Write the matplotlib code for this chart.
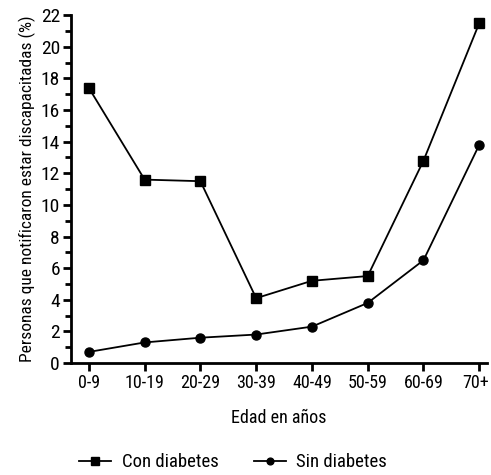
import numpy as np
import matplotlib
matplotlib.use("Agg")
import matplotlib.pyplot as plt
from matplotlib.ticker import MultipleLocator
from matplotlib.transforms import ScaledTranslation

plt.rcParams['font.family'] = ['Roboto Condensed', 'Liberation Sans Narrow', 'Open Sans Condensed',
                               'Liberation Sans', 'DejaVu Sans']

# datos
grupos = ['0-9', '10-19', '20-29', '30-39', '40-49', '50-59', '60-69', '70+']
con_diabetes = [17.4, 11.6, 11.5, 4.1, 5.2, 5.5, 12.8, 21.5]
sin_diabetes = [0.7, 1.3, 1.6, 1.8, 2.3, 3.8, 6.5, 13.8]

fig = plt.figure(figsize=(4.91, 4.75), dpi=100)
ax = fig.add_axes([0.1446, 0.2358, 0.8474, 0.7322])

x = np.arange(len(grupos))
ax.plot(x, con_diabetes, color='black', lw=1.3, marker='s', ms=7, label='Con diabetes')
ax.plot(x, sin_diabetes, color='black', lw=1.3, marker='o', ms=6.5, label='Sin diabetes')

ax.set_xlim(-0.32, 7.14)
ax.set_ylim(0, 22)
ax.set_xticks(x)
ax.set_xticklabels(grupos)
ax.yaxis.set_major_locator(MultipleLocator(2))
ax.yaxis.set_minor_locator(MultipleLocator(1))

for s in ['top', 'right']:
    ax.spines[s].set_visible(False)
for s in ['left', 'bottom']:
    ax.spines[s].set_linewidth(2)

ax.tick_params(axis='y', which='major', labelsize=14, width=2, length=6, direction='out', pad=2)
ax.tick_params(axis='x', which='major', labelsize=13, width=2, length=6, direction='out', pad=2)
ax.tick_params(axis='y', which='minor', width=2, length=4, direction='out')

# el ultimo rotulo pegado al borde: correrlo un poco a la izquierda
ultimo = ax.get_xticklabels()[-1]
ultimo.set_transform(ultimo.get_transform() + ScaledTranslation(-0.04, 0, fig.dpi_scale_trans))

ax.set_ylabel('Personas que notificaron estar discapacitadas (%)', fontsize=12.5, labelpad=3)
ax.set_xlabel('Edad en años', fontsize=13, labelpad=12)

fig.legend(loc='center', bbox_to_anchor=(0.475, 0.027), ncol=2, frameon=False,
           fontsize=13.5, handlelength=1.7, columnspacing=1.9, handletextpad=0.55,
           markerscale=0.75)

fig.savefig('out.png', dpi=100)
